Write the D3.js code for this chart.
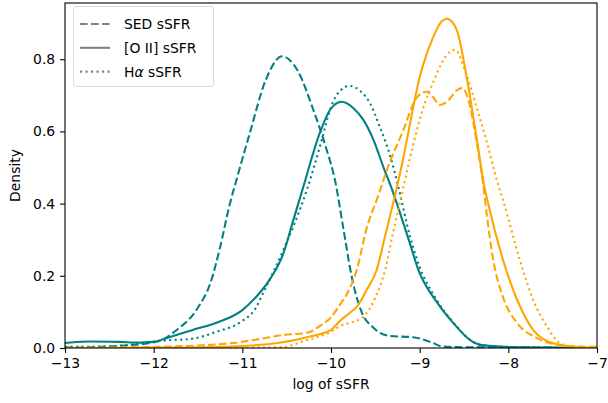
<!DOCTYPE html>
<html>
<head>
<meta charset="utf-8">
<script src="https://cdn.jsdelivr.net/npm/d3@7"></script>
<style>
  html, body { margin: 0; padding: 0; background: #fff; }
  svg { display: block; font-family: "DejaVu Sans", sans-serif; }
</style>
</head>
<body>
<svg id="chart" width="608" height="403"></svg>
<script>
// Kernel density estimates of log sSFR, [x, density] pairs per sample and tracer
const tealSED = [[-13,0.001],[-12.7,0.002],[-12.4,0.006],[-12.1,0.012],[-11.93,0.02],[-11.74,0.05],[-11.5,0.112],[-11.36,0.18],[-11.25,0.28],[-11.15,0.39],[-11.05,0.48],[-10.91,0.60],[-10.74,0.74],[-10.55,0.808],[-10.38,0.77],[-10.2,0.66],[-10.05,0.55],[-9.955,0.465],[-9.86,0.33],[-9.76,0.19],[-9.65,0.097],[-9.53,0.058],[-9.33,0.033],[-9.08,0.03],[-8.88,0.017],[-8.74,0.004],[-8.4,0.002],[-8,0.002],[-7.5,0.001],[-7,0.0]];
const tealOII = [[-13,0.014],[-12.7,0.018],[-12.4,0.017],[-12.15,0.015],[-12.0,0.017],[-11.85,0.028],[-11.56,0.05],[-11.29,0.07],[-11.0,0.105],[-10.85,0.14],[-10.69,0.19],[-10.54,0.26],[-10.43,0.35],[-10.32,0.44],[-10.12,0.60],[-10.01,0.66],[-9.88,0.682],[-9.75,0.665],[-9.635,0.632],[-9.52,0.576],[-9.41,0.502],[-9.31,0.438],[-9.22,0.373],[-9.11,0.29],[-9.02,0.22],[-8.8,0.125],[-8.62,0.069],[-8.43,0.022],[-8.3,0.008],[-8.0,0.003],[-7.5,0.001],[-7,0.0]];
const tealHa = [[-13,0.003],[-12.6,0.004],[-12.3,0.008],[-12.0,0.018],[-11.8,0.022],[-11.62,0.024],[-11.48,0.03],[-11.29,0.045],[-11.0,0.075],[-10.85,0.11],[-10.77,0.15],[-10.54,0.27],[-10.27,0.44],[-10.12,0.562],[-10.0,0.668],[-9.9,0.712],[-9.79,0.726],[-9.67,0.712],[-9.56,0.678],[-9.45,0.613],[-9.33,0.53],[-9.24,0.446],[-9.11,0.31],[-9.03,0.245],[-8.8,0.13],[-8.6,0.065],[-8.43,0.022],[-8.3,0.008],[-8,0.003],[-7,0.0]];
const orangeSED = [[-13,0.0],[-12.5,0.001],[-12,0.003],[-11.5,0.007],[-11.1,0.014],[-10.8,0.025],[-10.54,0.036],[-10.27,0.042],[-10.12,0.062],[-10.0,0.085],[-9.9,0.12],[-9.82,0.15],[-9.71,0.216],[-9.6,0.33],[-9.47,0.42],[-9.37,0.493],[-9.19,0.60],[-9.03,0.695],[-8.92,0.71],[-8.85,0.695],[-8.77,0.673],[-8.68,0.685],[-8.58,0.714],[-8.52,0.72],[-8.45,0.687],[-8.35,0.56],[-8.28,0.446],[-8.24,0.363],[-8.17,0.244],[-8.06,0.141],[-7.9,0.069],[-7.68,0.028],[-7.42,0.008],[-7.2,0.004],[-7,0.003]];
const orangeOII = [[-13,0.0],[-12,0.001],[-11.3,0.003],[-10.9,0.007],[-10.6,0.014],[-10.27,0.03],[-10.0,0.05],[-9.9,0.075],[-9.79,0.097],[-9.71,0.114],[-9.6,0.16],[-9.485,0.216],[-9.39,0.31],[-9.30,0.40],[-9.19,0.52],[-9.11,0.62],[-9.0,0.75],[-8.96,0.785],[-8.85,0.86],[-8.75,0.905],[-8.69,0.912],[-8.58,0.88],[-8.47,0.75],[-8.35,0.57],[-8.28,0.46],[-8.21,0.382],[-8.06,0.244],[-7.9,0.133],[-7.72,0.05],[-7.5,0.014],[-7.23,0.003],[-7,0.001]];
const orangeHa = [[-13,0.0],[-11,0.001],[-10.54,0.003],[-10.3,0.02],[-10.0,0.045],[-9.9,0.06],[-9.64,0.086],[-9.5,0.14],[-9.39,0.216],[-9.3,0.32],[-9.19,0.438],[-9.08,0.557],[-8.94,0.68],[-8.85,0.735],[-8.75,0.79],[-8.66,0.82],[-8.6,0.826],[-8.49,0.77],[-8.35,0.66],[-8.24,0.568],[-8.13,0.465],[-8.06,0.41],[-7.87,0.244],[-7.72,0.133],[-7.56,0.058],[-7.42,0.014],[-7.25,0.003],[-7,0.0]];

const xTicks = [-13, -12, -11, -10, -9, -8, -7];
const yTicks = [0.0, 0.2, 0.4, 0.6, 0.8];
const legendLabels = ["SED sSFR", "[O II] sSFR", "H\u03b1 sSFR"];

const svg = d3.select("#chart");
const m = { left: 65, right: 597, top: 3, bottom: 348 };

const x = d3.scaleLinear().domain([-13, -7]).range([m.left, m.right]);
const y = d3.scaleLinear().domain([0, 0.9557]).range([m.bottom, m.top]);

const TEAL = "#008080", ORANGE = "#ffa500";
const dash = { dashed: "7.7,3.3", solid: null, dotted: "2.1,3.4" };

svg.append("defs").append("clipPath").attr("id", "plotclip")
  .append("rect").attr("x", m.left).attr("y", m.top)
  .attr("width", m.right - m.left).attr("height", m.bottom - m.top);

const line = d3.line().x(d => x(d[0])).y(d => y(d[1])).curve(d3.curveMonotoneX);

const curves = [
  { data: tealSED, color: TEAL, style: "dashed" },
  { data: tealOII, color: TEAL, style: "solid" },
  { data: tealHa, color: TEAL, style: "dotted" },
  { data: orangeSED, color: ORANGE, style: "dashed" },
  { data: orangeOII, color: ORANGE, style: "solid" },
  { data: orangeHa, color: ORANGE, style: "dotted" }
];

const g = svg.append("g").attr("clip-path", "url(#plotclip)");
curves.forEach(c => {
  g.append("path")
    .attr("d", line(c.data))
    .attr("fill", "none")
    .attr("stroke", c.color)
    .attr("stroke-width", 2.08)
    .attr("stroke-dasharray", dash[c.style])
    .attr("stroke-linecap", "butt")
    .attr("stroke-linejoin", "round");
});

const fmtX = d => d3.format("d")(d).replace("-", "\u2212");
const xAxis = svg.append("g").attr("transform", `translate(0,${m.bottom})`)
  .call(d3.axisBottom(x).tickValues(xTicks).tickFormat(fmtX).tickSize(4.9).tickPadding(4.9));
const yAxis = svg.append("g").attr("transform", `translate(${m.left},0)`)
  .call(d3.axisLeft(y).tickValues(yTicks).tickFormat(d3.format(".1f")).tickSize(4.9).tickPadding(4.9));

[xAxis, yAxis].forEach(a => {
  a.select(".domain").remove();
  a.selectAll(".tick line").attr("stroke", "#000").attr("stroke-width", 1.1);
  a.selectAll(".tick text").attr("fill", "#000").style("font-size", "13.9px")
    .style("font-family", "DejaVu Sans, sans-serif");
});

// frame
svg.append("rect").attr("x", m.left).attr("y", m.top)
  .attr("width", m.right - m.left).attr("height", m.bottom - m.top)
  .attr("fill", "none").attr("stroke", "#000").attr("stroke-width", 1.1);

svg.append("text").attr("x", (m.left + m.right) / 2).attr("y", 389)
  .attr("text-anchor", "middle").style("font-size", "13.9px").text("log of sSFR");
svg.append("text").attr("transform", `translate(20,${(m.top + m.bottom) / 2}) rotate(-90)`)
  .attr("text-anchor", "middle").style("font-size", "13.9px").text("Density");

// legend
const lg = svg.append("g");
lg.append("rect").attr("x", 73.5).attr("y", 6.5).attr("width", 140).attr("height", 80)
  .attr("rx", 3).attr("fill", "#fff").attr("fill-opacity", 0.8)
  .attr("stroke", "#d9d9d9").attr("stroke-width", 1);
const styles = ["dashed", "solid", "dotted"];
legendLabels.forEach((lab, i) => {
  const cy = 24 + i * 23.8;
  lg.append("line").attr("x1", 80).attr("x2", 110).attr("y1", cy).attr("y2", cy)
    .attr("stroke", "#808080").attr("stroke-width", 2.08)
    .attr("stroke-dasharray", dash[styles[i]]);
  const t = lg.append("text").attr("x", 124).attr("y", cy + 5).style("font-size", "13.9px");
  if (i === 2) {
    t.append("tspan").text("H");
    t.append("tspan").style("font-style", "italic").text("\u03b1");
    t.append("tspan").text(" sSFR");
  } else {
    t.text(lab);
  }
});
</script>
</body>
</html>
